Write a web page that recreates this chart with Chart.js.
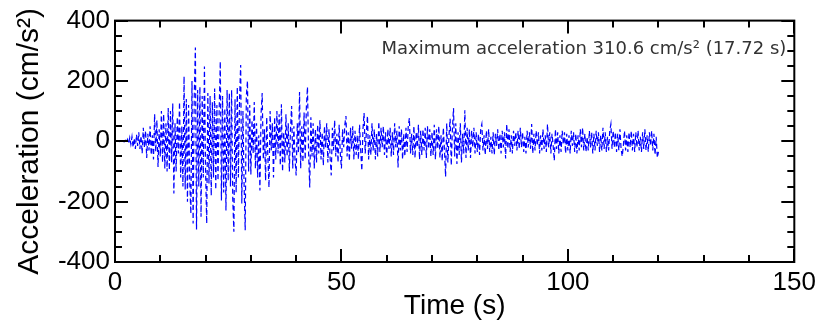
<!DOCTYPE html>
<html>
<head>
<meta charset="utf-8">
<script src="https://cdn.jsdelivr.net/npm/chart.js@4.4.1/dist/chart.umd.min.js"></script>
<style>
  html, body { margin: 0; padding: 0; background: #ffffff; }
  #wrap { width: 821px; height: 331px; position: relative; }
</style>
</head>
<body>
<div id="wrap"><canvas id="c" width="821" height="331"></canvas></div>
<script>
// ---- data ----
const timeStart = 0;      // s
const timeStep = 0.25;    // s between samples
// acceleration in cm/s^2, one value per 0.25 s, rows of 5 s
const acceleration = [
  0,0,0,1,-1,1,-1,2,-2,3,-5,6,-8,12,-10,15,-20,10,-25,22,
  -15,30,-25,18,-40,45,-20,35,-55,25,-30,50,-45,20,-60,90,-35,70,-85,40,
  -50,100,-70,90,-90,60,-100,110,-95,100,-70,125,-173,60,-100,80,-40,130,-120,50,
  -150,215,-160,140,-200,120,-130,-240,200,-272,150,310.6,-292,170,-150,180,-250,150,-120,248,
  -100,-272,160,-140,150,-180,130,-120,175,-160,120,-130,100,265,-196,150,-170,110,-229,170,
  -130,160,-150,170,-190,-300,140,-170,180,-120,140,253,-206,100,-140,-295,150,200,-100,120,
  -110,70,-40,130,-90,60,-120,20,-163,90,160,-60,40,-130,80,-50,-153,100,-30,60,
  -120,80,-60,100,-40,90,-80,123,-100,30,-70,90,-50,60,-100,40,117,-90,50,-60,
  -113,60,-40,163,-90,50,-70,95,-60,110,180,-40,-153,80,-50,60,-90,40,-70,55,
  -40,70,-60,30,-80,50,-20,60,-70,40,-55,-113,45,-30,70,-50,25,-70,55,-40,
  -90,40,-20,55,84,-50,30,-65,45,-25,50,-60,35,-45,20,-60,55,-30,-97,40,
  94,-40,30,84,-60,20,-45,60,-30,40,-60,25,-50,65,-35,45,-20,50,-45,30,
  -55,40,-25,45,-50,30,-45,60,-20,35,-87,50,-30,40,-60,25,-50,45,-35,50,
  77,-40,25,-45,50,-55,30,-20,55,-60,35,-45,40,-30,45,-55,50,-25,40,-50,
  30,-45,55,-60,40,-25,50,-55,20,-65,45,-30,-117,60,-70,20,75,-80,40,110,
  -50,60,-75,30,-45,60,-70,25,-40,103,-55,45,-30,40,-55,35,-20,45,-40,30,
  -35,25,-45,40,57,-30,20,-45,35,-25,40,-35,15,-40,30,-45,25,-15,40,-30,
  25,-40,35,-20,30,-57,57,-25,40,-35,20,-40,35,-15,30,-30,35,-25,45,-20,
  30,-35,15,-40,35,-20,30,-25,57,-40,25,-30,35,-15,30,-40,20,-30,40,-25,
  20,-35,57,-20,30,-40,25,-15,-64,40,-25,30,-40,20,-35,35,-10,30,-40,25,
  -30,20,-40,35,-15,30,-35,25,-40,20,-30,40,-20,45,-30,25,-35,15,-30,35,
  -20,30,-40,25,-30,35,-15,30,-35,20,-30,45,-25,30,-35,15,-30,35,57,-25,
  35,-20,30,-35,25,-30,40,-25,-50,-15,35,-30,20,-35,30,-20,35,-30,25,-35,
  30,-20,35,-30,15,-35,30,-25,40,-30,20,-35,30,-15,35,-30,25,-45,15,-54,
  -35
];
const xTicksMajor = [0, 50, 100, 150];
const yTicksMajor = [-400, -200, 0, 200, 400];
const xTitle = 'Time (s)';
const yTitle = 'Acceleration (cm/s²)';
const annotationText = 'Maximum acceleration 310.6 cm/s² (17.72 s)';

// ---- chart ----
const points = acceleration.map((v, i) => ({ x: timeStart + i * timeStep, y: v }));

const frameAndTicks = {
  id: 'frameAndTicks',
  afterDraw(chart) {
    const { ctx, chartArea: a, scales } = chart;
    const xs = scales.x, ys = scales.y;
    ctx.save();
    ctx.strokeStyle = '#000';
    ctx.lineWidth = 2;
    ctx.strokeRect(a.left, a.top, a.right - a.left, a.bottom - a.top);
    ctx.beginPath();
    for (let v = xs.min; v <= xs.max; v += 10) {
      const px = Math.round(xs.getPixelForValue(v));
      const len = (v % 50 === 0) ? 13 : 7;
      ctx.moveTo(px, a.bottom); ctx.lineTo(px, a.bottom - len);
      ctx.moveTo(px, a.top); ctx.lineTo(px, a.top + len);
    }
    for (let v = ys.min; v <= ys.max; v += 50) {
      const py = Math.round(ys.getPixelForValue(v));
      const len = (v % 200 === 0) ? 13 : 7;
      ctx.moveTo(a.left, py); ctx.lineTo(a.left + len, py);
      ctx.moveTo(a.right, py); ctx.lineTo(a.right - len, py);
    }
    ctx.stroke();
    // annotation
    ctx.fillStyle = '#333333';
    ctx.font = '18px "DejaVu Sans", Verdana, sans-serif';
    ctx.textAlign = 'right';
    ctx.textBaseline = 'alphabetic';
    ctx.fillText(annotationText, a.right - 8, a.top + 33);
    ctx.restore();
  }
};

new Chart(document.getElementById('c'), {
  type: 'line',
  data: {
    datasets: [{
      data: points,
      borderColor: '#0000ff',
      borderWidth: 1.2,
      borderDash: [5, 3],
      pointRadius: 0,
      tension: 0,
      fill: false
    }]
  },
  options: {
    responsive: false,
    animation: false,
    events: [],
    layout: { padding: { left: 0, right: 24, top: 19, bottom: 0 } },
    plugins: { legend: { display: false }, tooltip: { enabled: false } },
    scales: {
      x: {
        type: 'linear', min: 0, max: 150,
        afterBuildTicks(s) { s.ticks = xTicksMajor.map(v => ({ value: v })); },
        afterFit(s) { s.height = 69; },
        grid: { display: false, drawTicks: false },
        border: { display: false },
        ticks: { color: '#000', padding: 5, maxRotation: 0, font: { family: '"Liberation Sans", Arial, sans-serif', size: 26 } },
        title: { display: true, text: xTitle, color: '#000', padding: { top: 0, bottom: 8 }, font: { family: '"Liberation Sans", Arial, sans-serif', size: 28 } }
      },
      y: {
        type: 'linear', min: -400, max: 400,
        afterBuildTicks(s) { s.ticks = yTicksMajor.map(v => ({ value: v })); },
        afterFit(s) { s.width = 115; },
        grid: { display: false, drawTicks: false },
        border: { display: false },
        ticks: { color: '#000', padding: 5, font: { family: '"Liberation Sans", Arial, sans-serif', size: 26 } },
        title: { display: true, text: yTitle, color: '#000', padding: { top: 12, bottom: 0 }, font: { family: '"Liberation Sans", Arial, sans-serif', size: 30 } }
      }
    }
  },
  plugins: [frameAndTicks]
});
</script>
</body>
</html>
